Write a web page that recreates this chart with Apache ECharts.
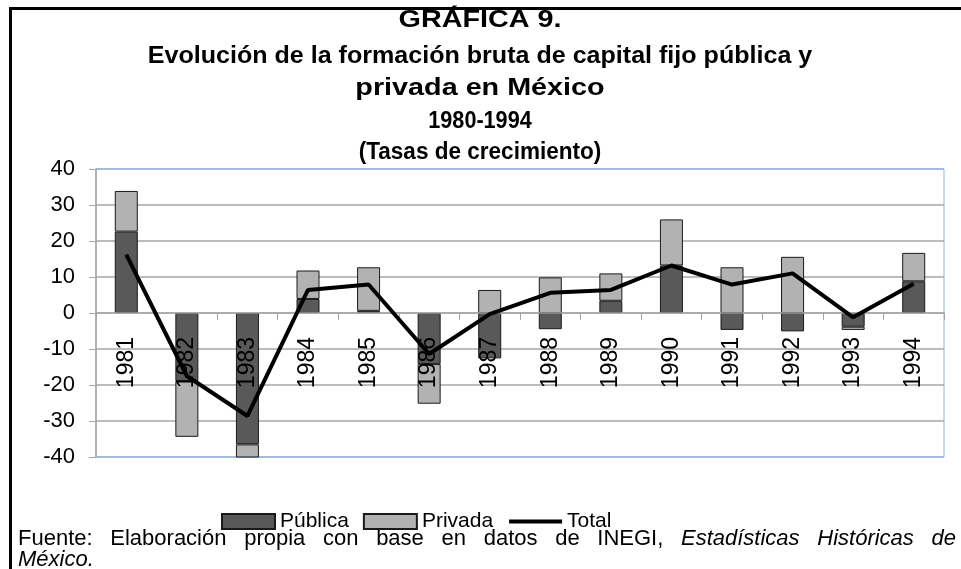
<!DOCTYPE html>
<html>
<head>
<meta charset="utf-8">
<script src="https://cdn.jsdelivr.net/npm/echarts@6/dist/echarts.min.js"></script>
<style>
  html, body { margin: 0; padding: 0; background: #fff; }
  #chart { width: 961px; height: 569px; }
</style>
</head>
<body>
<div id="chart"></div>
<script>
  /** Data */
  var years = ['1981', '1982', '1983', '1984', '1985', '1986', '1987',
    '1988', '1989', '1990', '1991', '1992', '1993', '1994'];
  var publica = [22.6, -18.9, -36.5, 3.9, 0.6, -14.2, -12.6, -4.5, 3.4, 13.2, -4.7, -5.1, -3.8, 8.8];
  var privada = [11.3, -15.5, -5.0, 7.9, 12.1, -11.0, 6.4, 9.9, 7.6, 12.8, 12.7, 15.6, -0.9, 7.9];
  var total = [16.2, -17.5, -28.6, 6.4, 7.9, -11.4, -0.3, 5.6, 6.4, 13.2, 7.9, 11.0, -1.2, 8.1];

  var titleLines = [
    'GRÁFICA 9.',
    'Evolución de la formación bruta de capital fijo pública y',
    'privada en México',
    '1980-1994',
    '(Tasas de crecimiento)'
  ];
  var titleY = [21, 57, 89, 122, 153];
  var titleStretch = [1.25, 1.09, 1.25, 0.94, 0.98];

  // footnote words, second item = italic
  var noteWords = [
    ['Fuente:', 0], ['Elaboración', 0], ['propia', 0], ['con', 0], ['base', 0],
    ['en', 0], ['datos', 0], ['de', 0], ['INEGI,', 0], ['Estadísticas', 1],
    ['Históricas', 1], ['de', 1]
  ];

  var FONT = '"Liberation Sans", Arial, sans-serif';
  var gridCol = '#a6a6a6';
  var blue = '#95b3d7';

  /** Graphic elements: frame, title, footnote */
  var graphics = [
    { type: 'rect', shape: { x: 9, y: 7, width: 960, height: 3 }, style: { fill: '#000' } },
    { type: 'rect', shape: { x: 9, y: 7, width: 3, height: 570 }, style: { fill: '#000' } }
  ];
  titleLines.forEach(function(t, i) {
    graphics.push({
      type: 'text', x: 480, y: titleY[i], scaleX: titleStretch[i],
      style: { text: t, font: 'bold 23px ' + FONT, fill: '#000', align: 'center', verticalAlign: 'middle' }
    });
  });

  // justify the first footnote line between left and right
  var ctx = document.createElement('canvas').getContext('2d');
  var noteLeft = 18, noteRight = 956, noteSize = 22;
  var widths = noteWords.map(function(w) {
    ctx.font = (w[1] ? 'italic ' : '') + noteSize + 'px ' + FONT;
    return ctx.measureText(w[0]).width;
  });
  var used = widths.reduce(function(a, b) { return a + b; }, 0);
  var gap = (noteRight - noteLeft - used) / (noteWords.length - 1);
  var cx = noteLeft;
  noteWords.forEach(function(w, i) {
    graphics.push({
      type: 'text', x: cx, y: 539,
      style: { text: w[0], font: (w[1] ? 'italic ' : '') + noteSize + 'px ' + FONT, fill: '#000', verticalAlign: 'middle' }
    });
    cx += widths[i] + gap;
  });
  graphics.push({
    type: 'text', x: noteLeft, y: 560,
    style: { text: 'México.', font: 'italic ' + noteSize + 'px ' + FONT, fill: '#000', verticalAlign: 'middle' }
  });

  var option = {
    animation: false,
    backgroundColor: '#fff',
    textStyle: { fontFamily: FONT },
    grid: {
      left: 96, right: 17, top: 169, bottom: 112,
      show: true, borderColor: blue, borderWidth: 1
    },
    legend: {
      top: 506, left: 216,
      itemWidth: 53, itemHeight: 15, itemGap: 14,
      textStyle: { fontSize: 21, color: '#000', fontFamily: '"Liberation Sans Narrow", ' + FONT },
      data: [
        { name: 'Pública', icon: 'rect' },
        { name: 'Privada', icon: 'rect' },
        { name: 'Total', itemStyle: { opacity: 0 }, lineStyle: { width: 4, color: '#000' } }
      ]
    },
    xAxis: {
      type: 'category',
      data: years,
      z: 3,
      axisLine: { onZero: true, lineStyle: { color: gridCol, width: 1.5 } },
      axisTick: { show: true, length: 7, lineStyle: { color: gridCol } },
      // labels sit just under the zero line, as in the original
      axisLabel: { rotate: 90, margin: -120, fontSize: 23, color: '#000' }
    },
    yAxis: {
      type: 'value',
      min: -40, max: 40, interval: 10,
      axisLine: { show: true, lineStyle: { color: gridCol, width: 1.5 } },
      axisTick: { show: true, length: 7, lineStyle: { color: gridCol } },
      axisLabel: { fontSize: 22, color: '#000', margin: 21 },
      splitLine: {
        lineStyle: {
          width: 1.5,
          color: [blue, gridCol, gridCol, gridCol, gridCol, gridCol, gridCol, gridCol, blue]
        }
      }
    },
    series: [{
      name: 'Pública',
      type: 'bar',
      stack: 'gbcf',
      barWidth: 23,
      data: publica,
      itemStyle: { color: '#595959', borderColor: '#1a1a1a', borderWidth: 1 }
    }, {
      name: 'Privada',
      type: 'bar',
      stack: 'gbcf',
      barWidth: 23,
      data: privada,
      itemStyle: { color: '#b2b2b2', borderColor: '#1a1a1a', borderWidth: 1 }
    }, {
      name: 'Total',
      type: 'line',
      data: total,
      symbol: 'none',
      z: 5,
      lineStyle: { color: '#000', width: 4 },
      itemStyle: { color: '#000' }
    }],
    graphic: graphics
  };

  echarts.init(document.getElementById('chart')).setOption(option);
</script>
</body>
</html>
